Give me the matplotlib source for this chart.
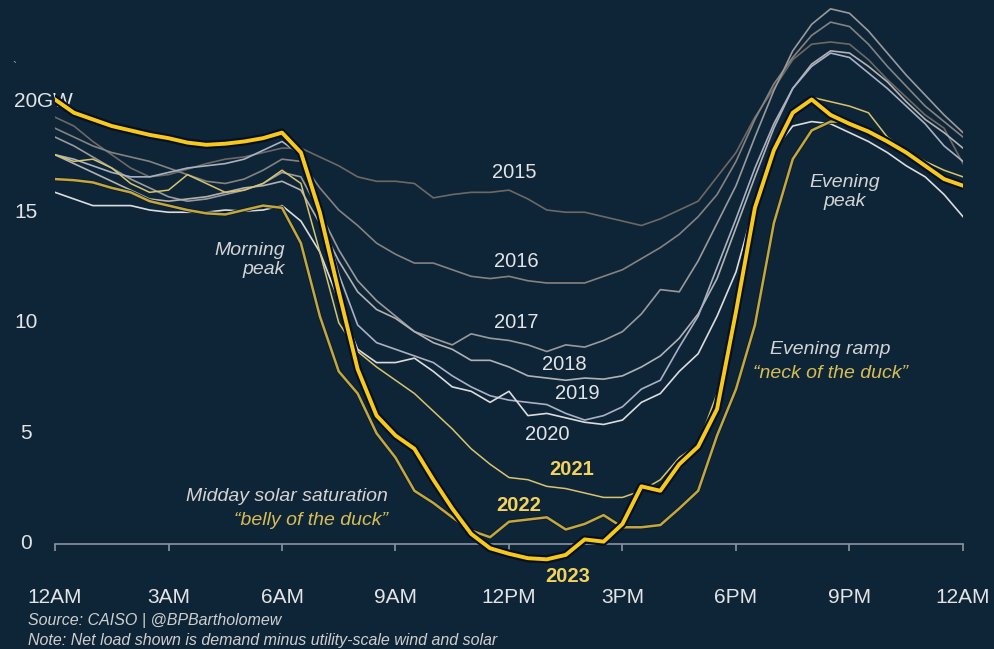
import numpy as np
import matplotlib
matplotlib.use("Agg")
import matplotlib.pyplot as plt
import matplotlib.patheffects as pe
from matplotlib.transforms import blended_transform_factory

plt.rcParams['font.family'] = ['Liberation Sans', 'DejaVu Sans']

# half-hour steps, 12AM to 12AM
hours = np.arange(0, 24.5, 0.5)

# net load, GW
load_2015 = [19.3, 18.9, 18.2, 17.6, 17.0, 16.6, 16.7, 16.95, 17.2, 17.4, 17.5, 17.7, 17.9, 17.9,
             17.5, 17.1, 16.6, 16.4, 16.4, 16.3, 15.65, 15.8, 15.9, 15.9,
             16.0, 15.6, 15.1, 15.0, 15.0, 14.8, 14.6, 14.4, 14.7, 15.1, 15.5, 16.6,
             17.7, 19.3, 20.6, 21.9, 22.6, 22.7, 22.6, 21.9, 21.0, 20.2, 19.4, 18.8, 17.2]
load_2016 = [18.8, 18.4, 18.0, 17.7, 17.5, 17.3, 17.0, 16.7, 16.4, 16.3, 16.5, 16.9, 17.4, 17.3,
             16.1, 15.1, 14.4, 13.6, 13.1, 12.7, 12.7, 12.4, 12.1, 12.0,
             12.1, 11.9, 11.8, 11.8, 11.8, 12.1, 12.4, 12.9, 13.4, 14.0, 14.8, 15.8,
             17.3, 19.2, 20.8, 22.0, 23.0, 23.6, 23.4, 22.6, 21.6, 20.7, 19.8, 19.1, 18.4]
load_2017 = [18.4, 18.0, 17.5, 17.0, 16.5, 16.1, 15.7, 15.5, 15.6, 15.8, 16.0, 16.3, 16.8, 16.6,
             15.0, 13.3, 11.9, 11.0, 10.3, 9.6, 9.3, 9.0, 9.5, 9.3,
             9.2, 9.0, 8.7, 9.0, 8.9, 9.2, 9.6, 10.4, 11.5, 11.4, 12.8, 14.5,
             16.2, 18.4, 20.5, 22.3, 23.5, 24.2, 24.0, 23.2, 22.2, 21.2, 20.3, 19.4, 18.6]
load_2018 = [17.6, 17.2, 16.8, 16.4, 16.0, 15.6, 15.5, 15.6, 15.7, 15.9, 16.1, 16.2, 16.4, 16.0,
             14.5, 12.8, 11.4, 10.6, 10.2, 9.6, 9.1, 8.8, 8.3, 8.3,
             8.0, 7.6, 7.5, 7.4, 7.5, 7.45, 7.6, 8.0, 8.5, 9.3, 10.4, 12.0,
             14.3, 16.6, 18.8, 20.6, 21.7, 22.3, 22.2, 21.6, 20.9, 20.0, 19.2, 18.6, 17.9]
load_2019 = [17.6, 17.4, 17.1, 16.8, 16.6, 16.6, 16.8, 17.0, 17.1, 17.2, 17.4, 17.8, 18.2, 17.6,
             15.3, 12.2, 9.9, 9.1, 8.8, 8.5, 8.2, 7.6, 7.1, 6.7,
             6.5, 6.4, 6.3, 5.9, 5.6, 5.8, 6.2, 7.0, 7.4, 8.9, 10.3, 12.5,
             14.7, 17.0, 19.0, 20.6, 21.6, 22.2, 22.0, 21.3, 20.6, 19.8, 19.0, 18.0, 17.3]
load_2020 = [15.9, 15.6, 15.3, 15.3, 15.3, 15.1, 15.0, 15.0, 15.0, 15.1, 15.05, 15.1, 15.3, 14.6,
             13.2, 11.0, 8.8, 8.2, 8.2, 8.4, 7.8, 7.1, 6.9, 6.4,
             6.9, 5.8, 5.9, 5.7, 5.5, 5.4, 5.6, 6.4, 6.8, 7.8, 8.6, 10.3,
             12.3, 15.4, 17.8, 18.9, 19.1, 19.0, 18.6, 18.2, 17.7, 17.1, 16.6, 15.8, 14.8]
load_2021 = [17.6, 17.3, 17.4, 17.0, 16.3, 15.9, 16.0, 16.7, 16.3, 15.9, 16.0, 16.3, 16.9, 16.3,
             13.2, 10.0, 8.7, 8.0, 7.4, 6.8, 6.0, 5.2, 4.3, 3.6,
             3.0, 2.9, 2.6, 2.5, 2.3, 2.1, 2.1, 2.4, 2.9, 3.9, 4.5, 6.8,
             10.9, 15.0, 17.8, 19.4, 20.2, 20.0, 19.8, 19.5, 18.4, 17.8, 17.3, 16.9, 16.6]
load_2022 = [16.5, 16.45, 16.35, 16.1, 15.9, 15.5, 15.3, 15.1, 14.95, 14.9, 15.1, 15.3, 15.2, 13.6,
             10.3, 7.8, 6.8, 5.0, 3.9, 2.4, 1.85, 1.2, 0.6, 0.3,
             1.0, 1.1, 1.2, 0.65, 0.9, 1.3, 0.75, 0.75, 0.85, 1.6, 2.4, 4.9,
             7.0, 9.9, 14.5, 17.4, 18.7, 19.1, 19.1, 18.7, 18.2, 17.7, 17.1, 16.6, 16.2]
load_2023 = [20.1, 19.5, 19.2, 18.9, 18.7, 18.5, 18.35, 18.15, 18.05, 18.1, 18.2, 18.35, 18.6, 17.7,
             15.0, 11.4, 7.9, 5.8, 4.9, 4.3, 2.9, 1.6, 0.45, -0.2,
             -0.45, -0.65, -0.7, -0.5, 0.2, 0.1, 0.9, 2.6, 2.4, 3.6, 4.4, 6.1,
             10.5, 15.2, 17.8, 19.5, 20.1, 19.4, 19.0, 18.65, 18.2, 17.7, 17.1, 16.5, 16.2]

years = ["2015", "2016", "2017", "2018", "2019", "2020", "2021", "2022", "2023"]
loads = [load_2015, load_2016, load_2017, load_2018, load_2019, load_2020,
         load_2021, load_2022, load_2023]

x_ticks = [0, 3, 6, 9, 12, 15, 18, 21, 24]
x_labels = ["12AM", "3AM", "6AM", "9AM", "12PM", "3PM", "6PM", "9PM", "12AM"]
y_ticks = [0, 5, 10, 15, 20]
y_labels = ["0", "5", "10", "15", "20"]

bg = "#0e2538"
txt = "#e4e4e4"
gold_txt = "#d8bd55"
yellow_lbl = "#f3d35c"

colors = {"2015": "#6e6863", "2016": "#85827f", "2017": "#9a9a9a", "2018": "#b2b2b2",
          "2019": "#aab1c2", "2020": "#dcdcdc", "2021": "#d9c46e", "2022": "#c5a83c",
          "2023": "#f8c81a"}
widths = {"2021": 1.1, "2022": 1.8, "2023": 2.8}

# label positions (hour, GW)
label_pos = {"2015": (12.15, 16.8), "2016": (12.2, 12.75), "2017": (12.2, 10.0),
             "2018": (13.45, 8.1), "2019": (13.8, 6.8), "2020": (13.0, 4.95),
             "2021": (13.65, 3.35), "2022": (12.25, 1.75), "2023": (13.55, -1.5)}

fig = plt.figure(figsize=(9.94, 6.49), dpi=100)
fig.patch.set_facecolor(bg)
ax = fig.add_axes([55 / 994, 72 / 649, 908 / 994, 577 / 649])
ax.set_facecolor(bg)

for yr, vals in zip(years, loads):
    lw = widths.get(yr, 1.2)
    line, = ax.plot(hours, vals, color=colors[yr], lw=lw, solid_joinstyle="round",
                    zorder=3 if yr != "2023" else 5)
    if yr == "2023":
        line.set_path_effects([pe.Stroke(linewidth=6, foreground="#061022"), pe.Normal()])
    elif yr == "2022":
        line.set_path_effects([pe.Stroke(linewidth=3, foreground="#0a1a2c"), pe.Normal()])

ax.set_xlim(0, 24)
ax.set_ylim(-1.5, 24.6)

for s in ["top", "right", "left"]:
    ax.spines[s].set_visible(False)
ax.spines["bottom"].set_position(("data", 0))
ax.spines["bottom"].set_color("#8a949e")
ax.spines["bottom"].set_linewidth(1.2)
ax.spines["bottom"].set_zorder(2)
ax.set_xticks(x_ticks)
ax.set_xticklabels(x_labels)
ax.tick_params(axis="x", direction="out", length=5, width=1.2, color="#8a949e",
               labelcolor=txt, labelsize=15, pad=27)
ax.set_yticks([])

# y labels centred left of the plot
ytr = blended_transform_factory(fig.transFigure, ax.transData)
for v, lab in zip(y_ticks, y_labels):
    ax.text(26 / 994, v, lab, transform=ytr, ha="center", va="center",
            color=txt, fontsize=15)
ax.text(37.5 / 994, y_ticks[-1], "GW", transform=ytr, ha="left", va="center",
        color=txt, fontsize=15)
fig.text(12 / 994, 1 - 68 / 649, "`", color="#9aa4ae", fontsize=9, ha="left", va="center")

for yr in years:
    x, y = label_pos[yr]
    if yr in ("2021", "2022", "2023"):
        ax.text(x, y, yr, color=yellow_lbl, fontsize=14.5, fontweight="bold",
                ha="center", va="center", zorder=6)
    else:
        ax.text(x, y, yr, color=txt, fontsize=14.5, ha="center", va="center", zorder=6)

ax.text(6.08, 12.85, "Morning\npeak", color="#d4d4d4", fontsize=14, style="italic",
        ha="right", va="center", linespacing=1.15)
ax.text(20.88, 15.9, "Evening\npeak", color="#d4d4d4", fontsize=14, style="italic",
        ha="center", va="center", linespacing=1.15)
ax.text(20.5, 8.78, "Evening ramp", color="#d4d4d4", fontsize=14, style="italic",
        ha="center", va="center")
ax.text(20.5, 7.69, "\u201cneck of the duck\u201d", color=gold_txt, fontsize=14,
        style="italic", ha="center", va="center")
ax.text(8.8, 2.13, "Midday solar saturation", color="#d4d4d4", fontsize=14,
        style="italic", ha="right", va="center")
ax.text(8.8, 1.04, "\u201cbelly of the duck\u201d", color=gold_txt, fontsize=14,
        style="italic", ha="right", va="center")

fig.text(28 / 994, 1 - 621 / 649, "Source: CAISO | @BPBartholomew", color="#cfcfcf",
         fontsize=11.5, style="italic", ha="left", va="center")
fig.text(28 / 994, 1 - 640 / 649,
         "Note: Net load shown is demand minus utility-scale wind and solar",
         color="#cfcfcf", fontsize=11.5, style="italic", ha="left", va="center")

fig.savefig("out.png", dpi=100, facecolor=bg)
